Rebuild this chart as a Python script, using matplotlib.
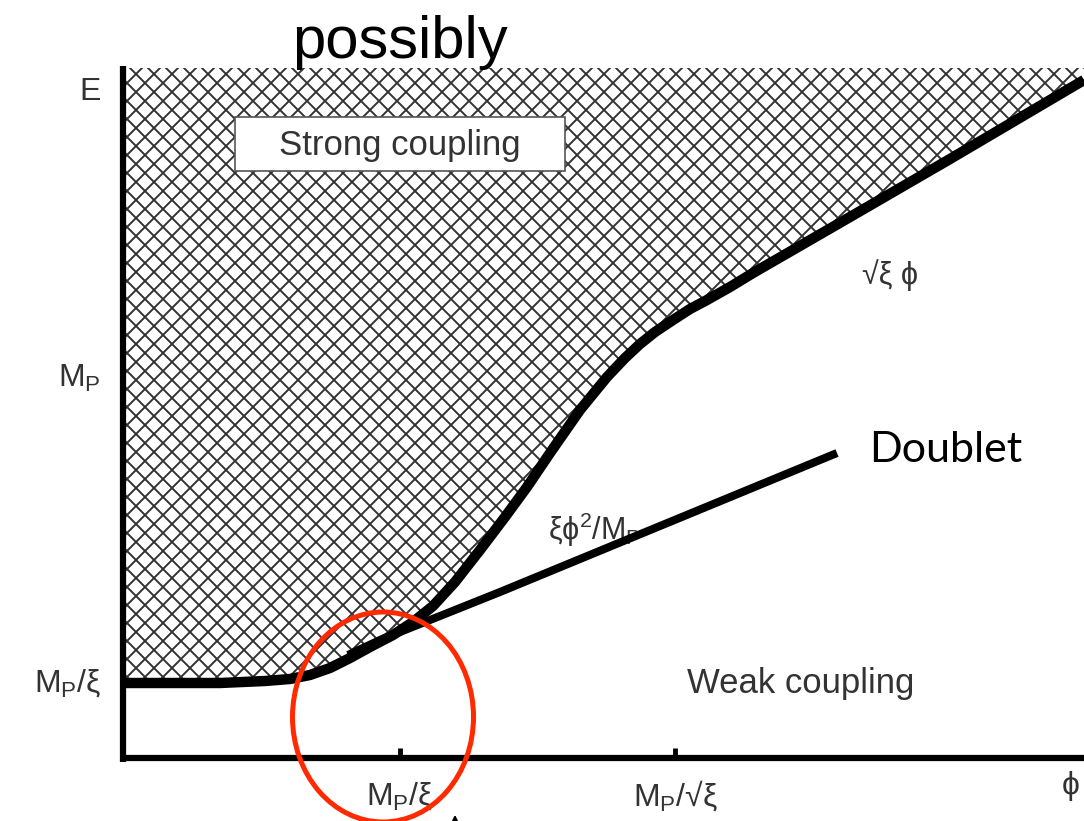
import numpy as np
import matplotlib.pyplot as plt
from matplotlib.patches import Polygon, Ellipse, Rectangle

plt.rcParams['font.family'] = ['Liberation Sans', 'DejaVu Sans']
plt.rcParams['mathtext.fontset'] = 'custom'
plt.rcParams['mathtext.rm'] = 'Liberation Sans'
plt.rcParams['mathtext.it'] = 'Liberation Sans:italic'

# boundary of the strong coupling region (canvas pixels, y down)
curve_x = [125, 220, 265, 290, 310, 330, 350, 370, 393, 413, 433, 455, 480, 505, 527,
           550, 580, 607, 625, 640, 655, 673, 690, 707, 730, 753, 850, 950, 1084]
curve_y = [683, 683, 681, 679, 675, 668, 658, 647, 635, 622, 606, 582, 550, 517, 487,
           453, 410, 377, 358, 344, 332, 320, 309, 300, 287, 273, 217, 159, 80]

# doublet line
doublet_x = [348, 380, 500, 837]
doublet_y = [655, 640, 592, 453]

top_y = 68
x_ticks = [400, 675]
x_tick_labels = [r'M$_{\rm P}$/ξ', r'M$_{\rm P}$/√ξ']
y_tick_pos = [378, 683]
y_tick_labels = [r'M$_{\rm P}$', r'M$_{\rm P}$/ξ']

fig = plt.figure(figsize=(10.84, 8.21), dpi=100)
ax = fig.add_axes([0, 0, 1, 1])
ax.set_xlim(0, 1084)
ax.set_ylim(821, 0)
ax.axis('off')

# cross hatched area above the curve
verts = [(125, top_y), (1084, top_y)] + list(zip(curve_x[::-1], curve_y[::-1]))
region = Polygon(verts, closed=True, facecolor='white', edgecolor='none', zorder=1)
ax.add_patch(region)
step = 18
for c in np.arange(-1200, 1200, step):
    xs = np.array([0, 1100])
    l1, = ax.plot(xs, xs + c + 4, color='#333333', lw=1.4, zorder=2)
    l2, = ax.plot(xs, -xs + c + 1100 + 4, color='#333333', lw=1.4, zorder=2)
    l1.set_clip_path(region)
    l2.set_clip_path(region)

# label box
ax.add_patch(Rectangle((235, 117), 330, 54, facecolor='white', edgecolor='#555555', lw=1.2, zorder=3))
ax.text(400, 145, 'Strong coupling', fontsize=25, color='#333333', ha='center', va='center', zorder=4)

ax.plot(curve_x, curve_y, color='black', lw=7.5, solid_capstyle='butt', solid_joinstyle='round', zorder=5)
ax.plot(doublet_x, doublet_y, color='black', lw=5.8, solid_capstyle='butt', zorder=5)

# axes
ax.plot([123, 123], [66, 762], color='black', lw=4.5, solid_capstyle='butt', zorder=6)
ax.plot([120, 1084], [758, 758], color='black', lw=4.5, solid_capstyle='butt', zorder=6)
for xt, lab in zip(x_ticks, x_tick_labels):
    ax.plot([xt, xt], [748, 758], color='black', lw=3.5, solid_capstyle='butt', zorder=6)
    ax.text(xt, 796, lab, fontsize=23, color='#333333', ha='center', va='center')
ax.text(1071, 786, 'ϕ', fontsize=23, color='#333333', ha='center', va='center')
for yt, lab in zip(y_tick_pos, y_tick_labels):
    ax.text(101, yt, lab, fontsize=23, color='#333333', ha='right', va='center')
ax.text(101, 92, 'E', fontsize=23, color='#333333', ha='right', va='center')

ax.text(595, 530, r'ξϕ$^2$/M$_{\rm P}$', fontsize=22, color='#333333', ha='center', va='center', zorder=4)
ax.text(890, 275, '√ξ ϕ', fontsize=22, color='#333333', ha='center', va='center')
ax.text(801, 683, 'Weak coupling', fontsize=25, color='#333333', ha='center', va='center')
ax.text(946, 450, 'Doublet', fontsize=31, color='black', ha='center', va='center', family=['Lato', 'DejaVu Sans'])
ax.text(400, 58, 'possibly', fontsize=43, color='black', ha='center', va='baseline', zorder=7)

ax.add_patch(Ellipse((383, 717), 181, 210, facecolor='none', edgecolor='#ff2a00', lw=3.6, zorder=8))
ax.annotate('', xy=(455, 812), xytext=(455, 860),
            arrowprops=dict(arrowstyle='-|>', color='black', lw=1.5, mutation_scale=18))

plt.savefig('out.png', dpi=100)
